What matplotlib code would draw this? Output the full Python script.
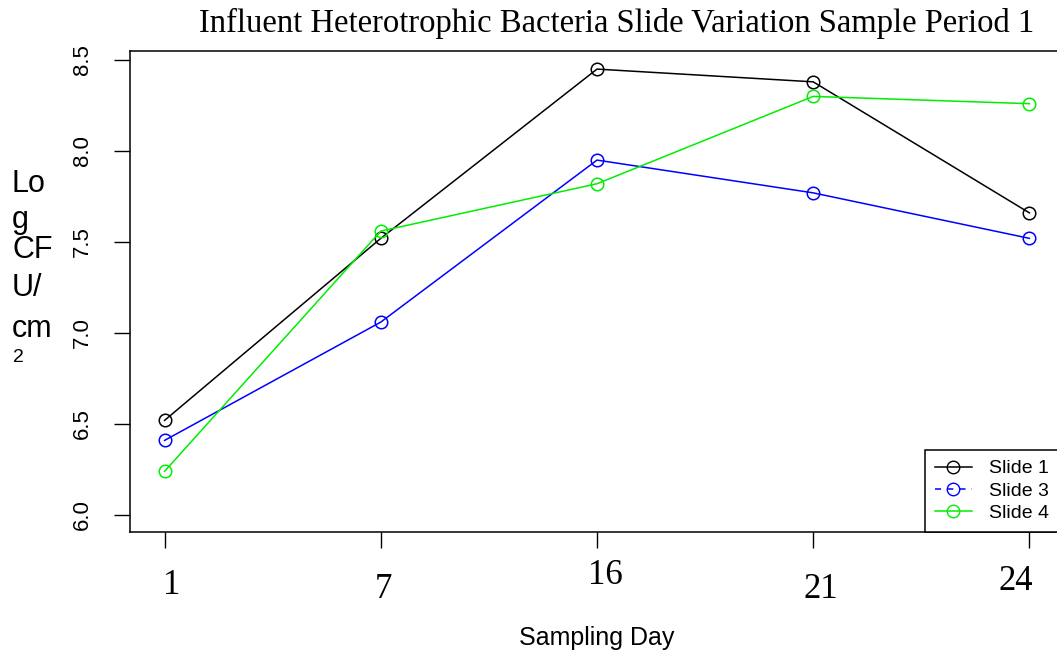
import matplotlib.pyplot as plt
from matplotlib.lines import Line2D

# sampling days (plotted at equal spacing) and log CFU/cm2 per slide
days = ["1", "7", "16", "21", "24"]
slide1 = [6.52, 7.52, 8.45, 8.38, 7.66]
slide3 = [6.41, 7.06, 7.95, 7.77, 7.52]
slide4 = [6.24, 7.56, 7.82, 8.30, 8.26]
yticks = [6.0, 6.5, 7.0, 7.5, 8.0, 8.5]

W, H = 1057, 658
fig = plt.figure(figsize=(W / 100, H / 100), dpi=100)
# axes box runs past the right edge of the picture, as in the original
ax = fig.add_axes([130 / W, 1 - 532 / H, (1064 - 130) / W, (532 - 51) / H])

x = list(range(1, len(days) + 1))
ms = 9
lw = 1.1
ax.plot(x, slide1, color="black", marker="o", mfc="none", ms=ms, lw=lw, mew=1.1)
ax.plot(x, slide3, color="blue", marker="o", mfc="none", ms=ms, lw=lw, mew=1.1)
ax.plot(x, slide4, color="#00ee00", marker="o", mfc="none", ms=ms, lw=lw, mew=1.1)

ax.set_xlim(0.84, 5.16)
ax.set_ylim(6.0 - 17 / 182, 8.5 + 9 / 182)

ax.set_yticks(yticks)
ax.set_yticklabels(["%.1f" % v for v in yticks], rotation=90, va="center",
                   fontsize=16, family="Liberation Sans")
ax.tick_params(axis="y", length=11.5, width=1.0, pad=15)
ax.set_xticks(x)
ax.set_xticklabels([])
ax.tick_params(axis="x", length=11.5, width=1.0)
for s in ax.spines.values():
    s.set_linewidth(1.1)

# day labels, placed a little unevenly like the original
dx = [7, 3, 8, 8, -14]
dy = [-53, -58, -44, -58, -49]
for xi, lab, ox, oy in zip(x, days, dx, dy):
    ax.annotate(lab, xy=(xi, 0), xycoords=ax.get_xaxis_transform(),
                xytext=(ox, oy), textcoords="offset pixels", ha="center",
                va="center", fontsize=25, family="Liberation Serif")

fig.text(597 / W, 1 - 638 / H, "Sampling Day", ha="center", va="center",
         fontsize=18, family="Liberation Sans")

# stacked y label
ylines = [("Lo", 192), ("g", 228), ("CF", 258), ("U/", 296), ("cm", 337)]
for t, yb in ylines:
    fig.text(12 / W, 1 - yb / H, t, ha="left", va="baseline", fontsize=22,
             family="Liberation Sans")
fig.text(13 / W, 1 - 362 / H, "2", ha="left", va="baseline", fontsize=14,
         family="Liberation Sans")

fig.text(617 / W, 1 - 23 / H, "Influent Heterotrophic Bacteria Slide Variation Sample Period 1",
         ha="center", va="center", fontsize=23.5, family="Liberation Serif")

handles = [
    Line2D([], [], color="black", marker="o", mfc="none", ms=ms, lw=lw),
    Line2D([], [], color="blue", marker="o", mfc="none", ms=ms, lw=lw, ls=(0, (4, 4))),
    Line2D([], [], color="#00ee00", marker="o", mfc="none", ms=ms, lw=lw),
]
leg = fig.legend(handles, ["Slide 1", "Slide 3", "Slide 4"], loc="lower left",
                 bbox_to_anchor=(925 / W, 1 - 532 / H), borderaxespad=0,
                 fancybox=False, edgecolor="black", framealpha=1,
                 prop={"family": "Liberation Sans", "size": 14},
                 handlelength=1.9, handletextpad=0.9, labelspacing=0.25,
                 borderpad=0.5)
leg.get_frame().set_linewidth(1.1)

fig.savefig("out.png", dpi=100)
